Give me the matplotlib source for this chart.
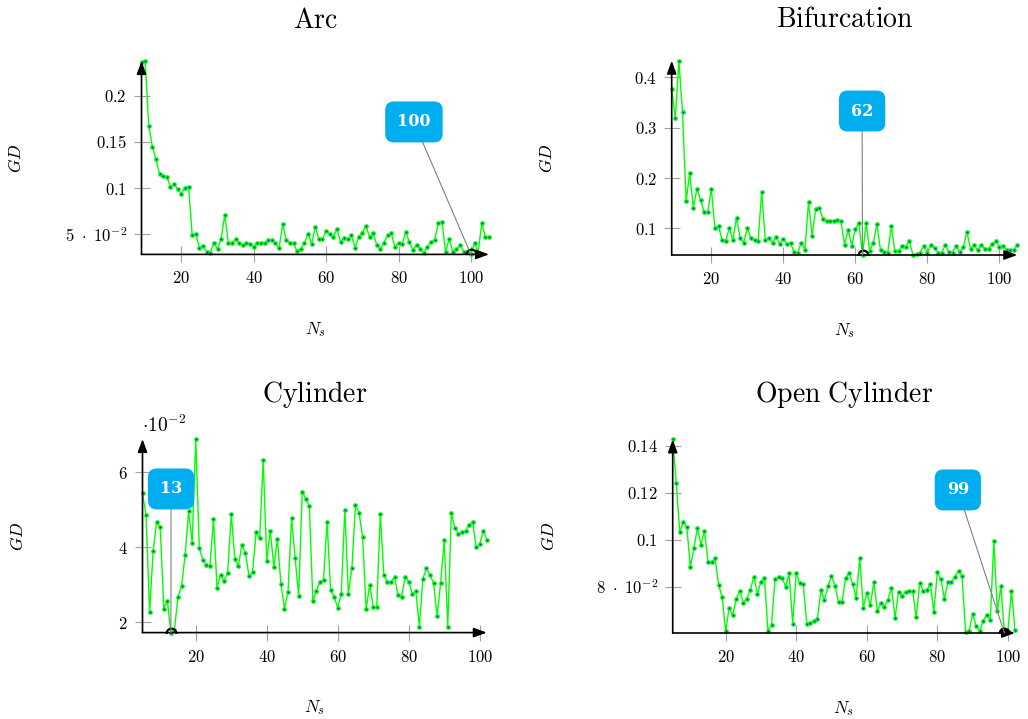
import numpy as np
import matplotlib.pyplot as plt

plt.rcParams['mathtext.fontset'] = 'cm'
plt.rcParams['font.family'] = ['DejaVu Serif']

# N_s values per panel
arc_n = np.arange(9, 106)
bif_n = np.arange(9, 106)
cyl_n = np.arange(5, 103)
ocyl_n = np.arange(5, 103)

# GD values
arc_gd = [0.2367, 0.2375, 0.1675, 0.1448, 0.1311, 0.1149, 0.1131, 0.1120, 0.1015, 0.1048,
          0.0987, 0.0940, 0.1005, 0.1015, 0.0493, 0.0507, 0.0356, 0.0377, 0.0313, 0.0298,
          0.0410, 0.0341, 0.0450, 0.0709, 0.0406, 0.0406, 0.0446, 0.0406, 0.0385, 0.0403,
          0.0392, 0.0367, 0.0410, 0.0400, 0.0400, 0.0439, 0.0442, 0.0406, 0.0349, 0.0608,
          0.0435, 0.0403, 0.0400, 0.0316, 0.0341, 0.0403, 0.0504, 0.0395, 0.0579, 0.0446,
          0.0446, 0.0540, 0.0504, 0.0475, 0.0554, 0.0421, 0.0464, 0.0446, 0.0489, 0.0356,
          0.0475, 0.0518, 0.0594, 0.0468, 0.0511, 0.0385, 0.0345, 0.0410, 0.0489, 0.0514,
          0.0363, 0.0403, 0.0392, 0.0522, 0.0417, 0.0331, 0.0385, 0.0341, 0.0295, 0.0367,
          0.0417, 0.0439, 0.0619, 0.0637, 0.0309, 0.0446, 0.0313, 0.0341, 0.0385, 0.0313,
          0.0313, 0.0282, 0.0410, 0.0302, 0.0619, 0.0471, 0.0471]

bif_gd = [0.3768, 0.3192, 0.4331, 0.3305, 0.1543, 0.2106, 0.1411, 0.1781, 0.1570, 0.1331,
          0.1318, 0.1788, 0.1007, 0.1053, 0.0762, 0.0748, 0.1007, 0.0762, 0.1212, 0.0815,
          0.0715, 0.1007, 0.0801, 0.0762, 0.0748, 0.1728, 0.0768, 0.0815, 0.0709, 0.0834,
          0.0695, 0.0788, 0.0695, 0.0709, 0.0523, 0.0510, 0.0715, 0.0576, 0.1523, 0.0854,
          0.1391, 0.1404, 0.1192, 0.1152, 0.1146, 0.1152, 0.1159, 0.1152, 0.0675, 0.0967,
          0.0656, 0.0980, 0.1113, 0.0470, 0.1113, 0.0543, 0.0715, 0.1086, 0.0570, 0.0536,
          0.0517, 0.1046, 0.0543, 0.0556, 0.0649, 0.0636, 0.0755, 0.0477, 0.0483, 0.0517,
          0.0649, 0.0503, 0.0675, 0.0603, 0.0517, 0.0517, 0.0669, 0.0530, 0.0517, 0.0656,
          0.0530, 0.0623, 0.0934, 0.0589, 0.0669, 0.0563, 0.0669, 0.0596, 0.0596, 0.0689,
          0.0742, 0.0636, 0.0656, 0.0576, 0.0576, 0.0576, 0.0662]

# cylinder values in units of 1e-2
cyl_gd = [5.44, 4.85, 2.27, 3.90, 4.67, 4.54, 2.36, 2.57, 1.72, 1.80,
          2.67, 2.95, 3.78, 4.95, 4.12, 6.88, 3.97, 3.66, 3.53, 3.49,
          4.75, 2.92, 3.25, 3.10, 3.32, 4.88, 3.69, 3.50, 4.06, 3.84,
          3.24, 3.33, 4.39, 4.23, 6.33, 3.64, 4.44, 3.47, 4.21, 3.01,
          2.36, 2.81, 4.78, 3.72, 2.70, 5.48, 5.29, 5.09, 2.56, 2.83,
          3.08, 3.12, 4.68, 2.85, 2.68, 2.38, 2.76, 5.00, 2.75, 3.44,
          5.11, 4.92, 4.28, 2.34, 3.00, 2.41, 2.41, 4.89, 3.25, 3.07,
          3.07, 3.20, 2.71, 2.68, 3.20, 3.08, 2.76, 2.83, 1.88, 3.16,
          3.43, 3.25, 3.05, 2.16, 3.05, 4.18, 1.88, 4.90, 4.52, 4.36,
          4.41, 4.42, 4.59, 4.68, 3.99, 4.07, 4.43, 4.20]

ocyl_gd = [0.1428, 0.1243, 0.1033, 0.1078, 0.1055, 0.0885, 0.0965, 0.1051, 0.0980, 0.1040,
           0.0908, 0.0905, 0.0922, 0.0810, 0.0757, 0.0611, 0.0712, 0.0679, 0.0750, 0.0784,
           0.0732, 0.0750, 0.0787, 0.0844, 0.0770, 0.0823, 0.0840, 0.0613, 0.0638, 0.0833,
           0.0843, 0.0840, 0.0801, 0.0858, 0.0643, 0.0861, 0.0816, 0.0811, 0.0643, 0.0648,
           0.0655, 0.0664, 0.0786, 0.0745, 0.0803, 0.0848, 0.0803, 0.0735, 0.0736, 0.0838,
           0.0858, 0.0814, 0.0752, 0.0925, 0.0711, 0.0774, 0.0722, 0.0820, 0.0699, 0.0730,
           0.0716, 0.0745, 0.0796, 0.0669, 0.0780, 0.0760, 0.0780, 0.0782, 0.0782, 0.0671,
           0.0817, 0.0784, 0.0786, 0.0814, 0.0694, 0.0862, 0.0833, 0.0750, 0.0821, 0.0821,
           0.0844, 0.0870, 0.0845, 0.0607, 0.0614, 0.0684, 0.0634, 0.0613, 0.0657, 0.0682,
           0.0660, 0.0997, 0.0696, 0.0804, 0.0604, 0.0611, 0.0784, 0.0617]

titles = ['Arc', 'Bifurcation', 'Cylinder', 'Open Cylinder']
xticks = [20, 40, 60, 80, 100]
arc_yticks = [0.05, 0.1, 0.15, 0.2]
arc_ylabels = [r'$5\ \cdot\ 10^{-2}$', '$0.1$', '$0.15$', '$0.2$']
bif_yticks = [0.1, 0.2, 0.3, 0.4]
bif_ylabels = ['$0.1$', '$0.2$', '$0.3$', '$0.4$']
cyl_yticks = [2, 4, 6]
cyl_ylabels = ['$2$', '$4$', '$6$']
ocyl_yticks = [0.08, 0.1, 0.12, 0.14]
ocyl_ylabels = [r'$8\ \cdot\ 10^{-2}$', '$0.1$', '$0.12$', '$0.14$']

W, H = 1028, 719
fig = plt.figure(figsize=(W / 100, H / 100), dpi=100)

# axes boxes in pixels: left, top, right, bottom
boxes = [(141.5, 61, 489, 254.4), (671.7, 60.7, 1017.3, 255),
         (142.5, 439, 486.8, 632.6), (672.7, 439.4, 1015, 633)]
# pin label box centres, axes fraction
pins = [(0.784, 0.685), (0.551, 0.741), (0.083, 0.742), (0.833, 0.739)]
title_pads = [24, 24, 27, 27]

panels = [(arc_n, arc_gd, arc_yticks, arc_ylabels),
          (bif_n, bif_gd, bif_yticks, bif_ylabels),
          (cyl_n, cyl_gd, cyl_yticks, cyl_ylabels),
          (ocyl_n, ocyl_gd, ocyl_yticks, ocyl_ylabels)]

arrow = dict(arrowstyle='-|>,head_length=0.6,head_width=0.22', color='black',
             lw=1.2, shrinkA=0, shrinkB=0, mutation_scale=13)

for i, (n, gd, yt, yl) in enumerate(panels):
    l, t, r, b = boxes[i]
    ax = fig.add_axes([l / W, (H - b) / H, (r - l) / W, (b - t) / H])
    gd = np.array(gd)
    ax.plot(n, gd, color='#00ff00', lw=1.0, zorder=3)
    ax.plot(n, gd, 'o', color='#00ff00', ms=3.4, mew=0, zorder=4, clip_on=False)
    ax.plot(n, gd, 's', color='#1a1aff', ms=1.2, mew=0, zorder=5, clip_on=False)
    ax.set_xlim(n[0], n[-1])
    ax.set_ylim(gd.min(), gd.max())

    for s in ax.spines.values():
        s.set_visible(False)
    ax.annotate('', xy=(1, 0), xytext=(0, 0), xycoords='axes fraction',
                arrowprops=arrow, zorder=6)
    ax.annotate('', xy=(0, 1), xytext=(0, 0), xycoords='axes fraction',
                arrowprops=arrow, zorder=6)

    ax.set_xticks(xticks)
    ax.set_xticklabels(['$%d$' % v for v in xticks])
    ax.set_yticks(yt)
    ax.set_yticklabels(yl)
    ax.tick_params(axis='both', direction='inout', length=11, width=0.8,
                   color='#a0a0a0', labelsize=12)
    ax.tick_params(axis='x', pad=6)
    ax.tick_params(axis='y', pad=5)

    ax.set_title('$\\mathrm{%s}$' % titles[i].replace(' ', '\\ '), fontsize=20,
                 pad=title_pads[i])
    ax.set_xlabel('$N_s$', fontsize=12.5)
    ax.set_ylabel('$GD$', fontsize=12.5)
    ax.xaxis.set_label_coords(0.5, -0.34)
    ax.yaxis.set_label_coords(-0.335, 0.5)

    k = int(np.argmin(gd))
    ax.plot(n[k], gd[k], 'o', mfc='none', mec='black', ms=7, mew=1.6, zorder=6)
    ax.annotate('%d' % n[k], xy=(n[k], gd[k]), xytext=pins[i],
                textcoords='axes fraction', ha='center', va='center',
                color='white', fontsize=11.5, fontweight='bold', family='DejaVu Serif',
                bbox=dict(boxstyle='round,pad=0.75,rounding_size=0.55',
                          fc='#00aeef', ec='none'),
                arrowprops=dict(arrowstyle='-', color='#808080', lw=0.8,
                                shrinkA=0, shrinkB=0), zorder=7)

    if i == 2:
        ax.text(0.0, 1.07, r'$\cdot10^{-2}$', transform=ax.transAxes,
                fontsize=14, ha='left', va='center')

fig.savefig('out.png', dpi=100)
